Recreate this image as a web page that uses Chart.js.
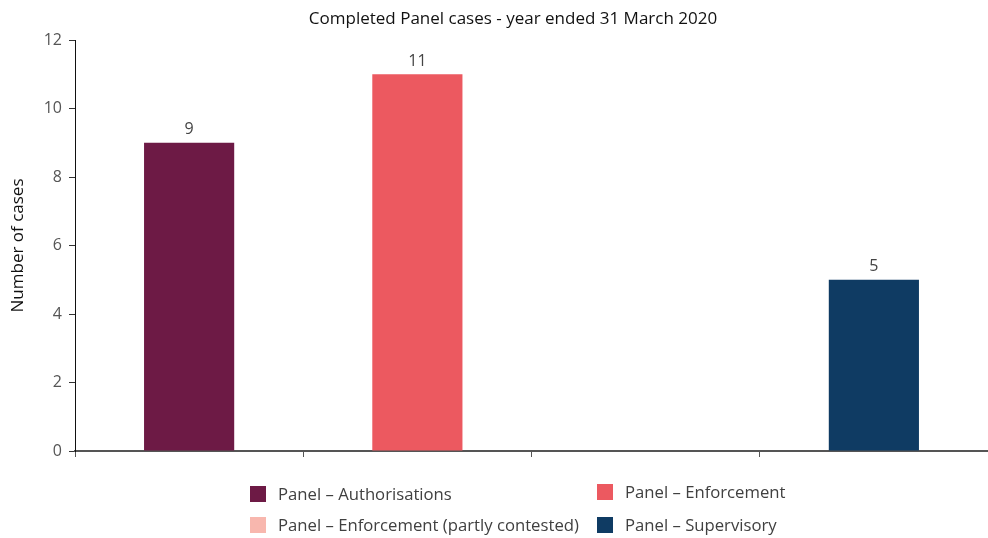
<!DOCTYPE html>
<html>
<head>
<meta charset="utf-8">
<script src="https://cdn.jsdelivr.net/npm/chart.js@4/dist/chart.umd.min.js"></script>
<style>
  html, body { margin: 0; padding: 0; background: #ffffff; }
  #wrap { position: relative; width: 988px; height: 538px; }
</style>
</head>
<body>
<div id="wrap"><canvas id="c"></canvas></div>
<script>
// ---- data ----
const chartTitle = 'Completed Panel cases - year ended 31 March 2020';
const categories = ['Panel – Authorisations', 'Panel – Enforcement', 'Panel – Enforcement (partly contested)', 'Panel – Supervisory'];
const caseCounts = [9, 11, 0, 5];
const barColors = ['#6d1a45', '#ec5960', '#f8b7ae', '#0f3b63'];
const yTicks = [0, 2, 4, 6, 8, 10, 12];
const yTitle = 'Number of cases';

const FONT = '"Open Sans", "Noto Sans", sans-serif';

// value labels above bars
const valueLabels = {
  id: 'valueLabels',
  afterDatasetsDraw(chart) {
    const ctx = chart.ctx;
    const meta = chart.getDatasetMeta(0);
    ctx.save();
    ctx.font = '16px ' + FONT;
    ctx.fillStyle = '#444444';
    ctx.textAlign = 'center';
    ctx.textBaseline = 'middle';
    meta.data.forEach((bar, i) => {
      const v = caseCounts[i];
      if (!v) return;
      ctx.fillText(String(v), bar.x, bar.y - 13);
    });
    ctx.restore();
  }
};

// title + two-column legend
const titleAndLegend = {
  id: 'titleAndLegend',
  afterDraw(chart) {
    const ctx = chart.ctx;
    ctx.save();
    ctx.font = '17px ' + FONT;
    ctx.fillStyle = '#111111';
    ctx.textAlign = 'center';
    ctx.textBaseline = 'middle';
    ctx.fillText(chartTitle, 513, 19);

    const colX = [250, 597];
    const rowY = [494, 525];
    ctx.font = '16.7px ' + FONT;
    ctx.textAlign = 'left';
    categories.forEach((label, i) => {
      const x = colX[i % 2];
      const y = rowY[Math.floor(i / 2)] - (i === 1 ? 2 : 0);
      ctx.fillStyle = barColors[i];
      ctx.fillRect(x, y - 8, 16, 16);
      ctx.fillStyle = '#404040';
      ctx.fillText(label, x + 28, y + 1);
    });
    ctx.restore();
  }
};

new Chart(document.getElementById('c'), {
  type: 'bar',
  data: {
    labels: categories,
    datasets: [{
      data: caseCounts,
      backgroundColor: barColors,
      borderWidth: 0,
      categoryPercentage: 1,
      barPercentage: 0.395
    }]
  },
  options: {
    responsive: true,
    maintainAspectRatio: false,
    devicePixelRatio: 1,
    animation: false,
    layout: { padding: { top: 40, right: 0, bottom: 81, left: 0 } },
    plugins: {
      legend: { display: false },
      title: { display: false },
      tooltip: { enabled: false }
    },
    scales: {
      x: {
        offset: true,
        grid: {
          offset: true,
          drawOnChartArea: false,
          drawTicks: true,
          tickLength: 6,
          color: '#555555',
          lineWidth: 1
        },
        border: { display: true, color: '#555555', width: 2 },
        ticks: { display: false },
        afterFit: (s) => { s.height = 6; }
      },
      y: {
        min: 0,
        max: 12,
        afterBuildTicks: (s) => { s.ticks = yTicks.map(v => ({ value: v })); },
        grid: {
          drawOnChartArea: false,
          drawTicks: true,
          tickLength: 6,
          color: '#333333'
        },
        border: { display: true, color: '#111111', width: 1 },
        ticks: {
          color: '#555555',
          font: { family: FONT, size: 16 },
          padding: 7
        },
        title: {
          display: true,
          text: yTitle,
          color: '#111111',
          font: { family: FONT, size: 17 },
          padding: { top: 8, bottom: 4 }
        },
        afterFit: (s) => { s.width = 75; }
      }
    }
  },
  plugins: [valueLabels, titleAndLegend]
});
</script>
</body>
</html>
